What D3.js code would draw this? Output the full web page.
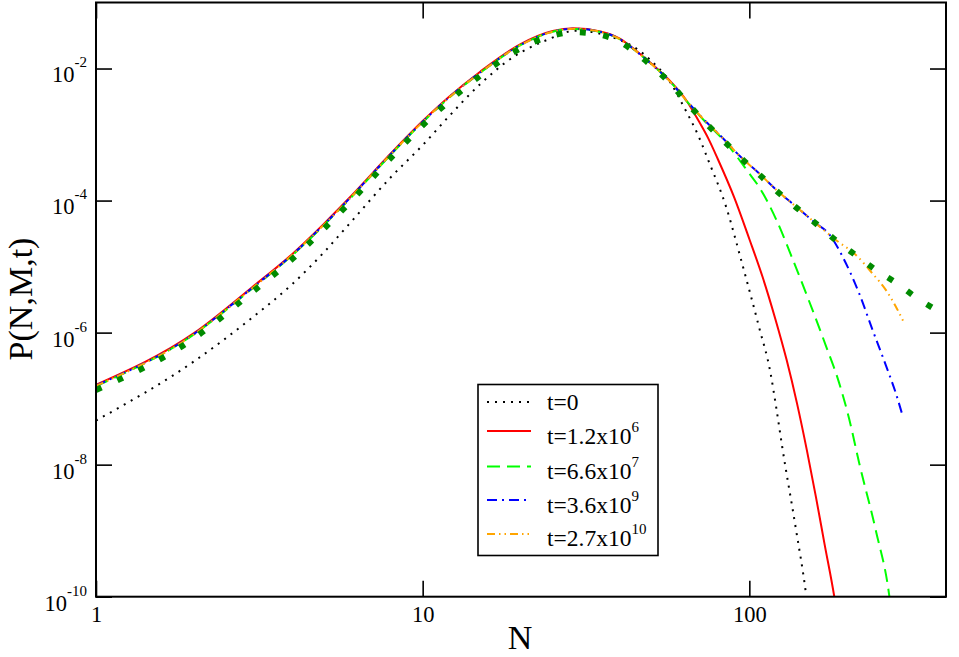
<!DOCTYPE html>
<html>
<head>
<meta charset="utf-8">
<script src="https://cdn.jsdelivr.net/npm/d3@7"></script>
<style>
  body { margin: 0; background: #fff; }
  svg { display: block; }
</style>
</head>
<body>
<div id="chart"></div>
<script>
// ── Dados: [N, P(N,M,t)] ──
const curveT0 = [[1,4.65e-8],[2,3.7e-7],[3,1.67e-6],[4,5.5e-6],[5,1.67e-5],[6,4.6e-5],[8,2.27e-4],[10,6.9e-4],[12,1.86e-3],[15,5.8e-3],[19,1.51e-2],[24,2.7e-2],[29.5,3.74e-2],[37,3.11e-2],[45,2.02e-2],[50,1.32e-2],[58,5.6e-3],[63,2.63e-3],[70,9.3e-4],[75,4.0e-4],[85,7.9e-5],[95,1.12e-5],[107,1.23e-6],[116,2.5e-7],[121,7.1e-8],[126,1.9e-8],[139,1.03e-9],[149,1.13e-10],[152,5e-11]];
const curveT1 = [[1,1.62e-7],[2,9.9e-7],[3,4.83e-6],[4,1.57e-5],[5,4.51e-5],[6,1.13e-4],[8,5.2e-4],[10,1.6e-3],[12,3.68e-3],[15,8.95e-3],[20,2.36e-2],[25,3.7e-2],[29,4.07e-2],[35,3.65e-2],[40,2.87e-2],[46,1.7e-2],[50,1.2e-2],[58,6.0e-3],[64,3.33e-3],[70,1.6e-3],[75,8.6e-4],[80,4.3e-4],[90,1.1e-4],[100,2.62e-5],[110,6.76e-6],[120,1.64e-6],[130,3.9e-7],[140,8.4e-8],[150,1.66e-8],[160,3.2e-9],[170,6.2e-10],[182,1e-10],[186,5e-11]];
const curveT2 = [[1,1.55e-7],[2,9.5e-7],[3,4.6e-6],[4,1.5e-5],[5,4.3e-5],[6,1.08e-4],[8,5.0e-4],[10,1.54e-3],[12,3.55e-3],[15,8.6e-3],[20,2.28e-2],[25,3.6e-2],[29,3.98e-2],[35,3.58e-2],[40,2.8e-2],[46,1.67e-2],[50,1.18e-2],[58,5.9e-3],[64,3.3e-3],[72,1.72e-3],[85,7.4e-4],[100,2.57e-4],[107,1.62e-4],[121,5.1e-5],[136,1.26e-5],[152,3.1e-6],[172,6.1e-7],[188,1.78e-7],[202,5.0e-8],[217,1.05e-8],[244,1.0e-9],[268,1.06e-10],[272,6e-11]];
const curveT3 = [[1,1.58e-7],[2,9.6e-7],[3,4.7e-6],[4,1.53e-5],[5,4.4e-5],[6,1.1e-4],[8,5.1e-4],[10,1.56e-3],[12,3.6e-3],[15,8.7e-3],[20,2.3e-2],[25,3.62e-2],[29,4.0e-2],[35,3.6e-2],[40,2.82e-2],[46,1.68e-2],[50,1.18e-2],[58,5.9e-3],[64,3.33e-3],[72,1.76e-3],[83,8.8e-4],[94,4.6e-4],[107,2.59e-4],[121,1.45e-4],[139,8.1e-5],[160,4.5e-5],[175,3.16e-5],[193,1.41e-5],[217,3.9e-6],[238,1.12e-6],[262,3.16e-7],[281,1.2e-7],[294,5.7e-8]];
const curveT4 = [[1,1.56e-7],[2,9.5e-7],[3,4.65e-6],[4,1.52e-5],[5,4.35e-5],[6,1.09e-4],[8,5.05e-4],[10,1.55e-3],[12,3.58e-3],[15,8.65e-3],[20,2.29e-2],[25,3.6e-2],[29,3.99e-2],[35,3.6e-2],[40,2.81e-2],[46,1.68e-2],[50,1.18e-2],[58,5.9e-3],[64,3.33e-3],[72,1.76e-3],[83,8.8e-4],[94,4.6e-4],[107,2.59e-4],[121,1.45e-4],[139,8.1e-5],[160,4.5e-5],[184,2.53e-5],[212,1.5e-5],[238,7.9e-6],[262,4.4e-6],[281,2.47e-6],[298,1.39e-6]];
const curveSquares = [[1,1.35e-7],[2,8.3e-7],[3,4.07e-6],[4,1.32e-5],[5,3.8e-5],[6,9.5e-5],[8,4.47e-4],[10,1.38e-3],[12,3.16e-3],[15,7.8e-3],[20,2.04e-2],[25,3.16e-2],[29,3.55e-2],[35,3.24e-2],[40,2.57e-2],[46,1.58e-2],[50,1.12e-2],[58,5.6e-3],[64,3.16e-3],[72,1.66e-3],[83,8.3e-4],[94,4.47e-4],[107,2.5e-4],[121,1.41e-4],[139,7.9e-5],[160,4.47e-5],[184,2.5e-5],[212,1.48e-5],[244,8.9e-6],[284,5.5e-6],[324,3.4e-6],[377,2.15e-6],[400,1.82e-6]];

// ── Eixos e legenda ──
const xTickValues = [1, 10, 100];
const yTickExponents = [-10, -8, -6, -4, -2];
const legendBase = ['t=0', 't=1.2x10', 't=6.6x10', 't=3.6x10', 't=2.7x10'];
const legendSup = ['', '6', '7', '9', '10'];

const FONT = "'Liberation Serif', 'Times New Roman', serif";

const series = [
  { data: curveT0, color: '#000000', width: 2, dash: '2,6', legend: 0 },
  { data: curveT1, color: '#ff0000', width: 2, dash: null, legend: 1 },
  { data: curveT2, color: '#00ff00', width: 2, dash: '13,7', legend: 2 },
  { data: curveT3, color: '#0000ff', width: 2, dash: '10,5,2,5', legend: 3 },
  { data: curveT4, color: '#ffa500', width: 2, dash: '8,4,1.5,4,1.5,4', legend: 4 },
  { data: curveSquares, color: '#008b00', width: 6, dash: '6,17.5', legend: -1 },
];

const margem = { left: 96, top: 2.5 };
const largura = 850;
const altura = 594.2;

const svg = d3.select('#chart').append('svg')
  .attr('width', 959)
  .attr('height', 657)
  .attr('font-family', FONT);

const g = svg.append('g')
  .attr('transform', `translate(${margem.left},${margem.top})`);

const x = d3.scaleLog().domain([1, 400]).range([0, largura]);
const y = d3.scaleLog().domain([1e-10, 1e-1]).range([altura, 0]);

svg.append('defs').append('clipPath').attr('id', 'area')
  .append('rect').attr('width', largura).attr('height', altura);

// ── Curvas ──
const linha = d3.line()
  .x(d => x(d[0]))
  .y(d => y(d[1]))
  .curve(d3.curveMonotoneX);

const curvas = g.append('g').attr('clip-path', 'url(#area)');
series.forEach(s => {
  curvas.append('path')
    .datum(s.data)
    .attr('fill', 'none')
    .attr('stroke', s.color)
    .attr('stroke-width', s.width)
    .attr('stroke-dasharray', s.dash)
    .attr('stroke-linecap', 'butt')
    .attr('d', linha);
});

// ── Eixos (ticks para dentro) ──
const yTicks = yTickExponents.map(e => Math.pow(10, e));

function estilo(sel) {
  sel.attr('font-family', FONT);
  sel.select('.domain').remove();
  sel.selectAll('.tick line').attr('stroke', '#000').attr('stroke-width', 1.6);
}

const eixoX = g.append('g')
  .attr('transform', `translate(0,${altura})`)
  .call(d3.axisBottom(x).tickValues(xTickValues).tickSize(-16).tickFormat(''))
  .call(estilo);
eixoX.selectAll('.tick').append('text')
  .attr('y', 25.5)
  .attr('fill', '#000')
  .attr('text-anchor', 'middle')
  .style('font-family', FONT)
  .style('font-size', '22.5px')
  .text(d => d);

g.append('g')
  .call(d3.axisTop(x).tickValues(xTickValues).tickSize(-16).tickFormat(''))
  .call(estilo);

const eixoY = g.append('g')
  .call(d3.axisLeft(y).tickValues(yTicks).tickSize(-16).tickFormat(''))
  .call(estilo);
eixoY.selectAll('.tick').each(function (d, i) {
  const t = d3.select(this).append('text')
    .attr('x', -9)
    .attr('y', 13.4)
    .attr('fill', '#000')
    .attr('text-anchor', 'end')
    .style('font-family', FONT)
    .style('font-size', '22.5px');
  t.append('tspan').text('10');
  t.append('tspan').attr('dy', -15).style('font-size', '15px').text(yTickExponents[i]);
});

g.append('g')
  .attr('transform', `translate(${largura},0)`)
  .call(d3.axisRight(y).tickValues(yTicks).tickSize(-16).tickFormat(''))
  .call(estilo);

// moldura
g.append('rect')
  .attr('width', largura)
  .attr('height', altura)
  .attr('fill', 'none')
  .attr('stroke', '#000')
  .attr('stroke-width', 2);

// ── Títulos ──
svg.append('text')
  .attr('x', 520)
  .attr('y', 649)
  .attr('text-anchor', 'middle')
  .style('font-family', FONT)
  .style('font-size', '34px')
  .text('N');

svg.append('text')
  .attr('transform', 'translate(32,299) rotate(-90)')
  .attr('text-anchor', 'middle')
  .style('font-family', FONT)
  .style('font-size', '34px')
  .text('P(N,M,t)');

// ── Legenda ──
const linhaY = [402, 431, 466.5, 500, 534];
const textoY = [409.5, 444, 478.5, 512.5, 546];
const leg = svg.append('g');
leg.append('rect')
  .attr('x', 478).attr('y', 384.5)
  .attr('width', 180).attr('height', 171)
  .attr('fill', '#fff')
  .attr('stroke', '#000')
  .attr('stroke-width', 1.6);

series.filter(s => s.legend >= 0).forEach(s => {
  const i = s.legend;
  leg.append('line')
    .attr('x1', 487).attr('x2', 531)
    .attr('y1', linhaY[i]).attr('y2', linhaY[i])
    .attr('stroke', s.color)
    .attr('stroke-width', s.width)
    .attr('stroke-dasharray', s.dash);
  const t = leg.append('text')
    .attr('x', 547)
    .attr('y', textoY[i])
    .style('font-family', FONT)
    .style('font-size', '23.5px');
  t.append('tspan').text(legendBase[i]);
  if (legendSup[i]) {
    t.append('tspan').attr('dy', -12).style('font-size', '15px').text(legendSup[i]);
  }
});
</script>
</body>
</html>
